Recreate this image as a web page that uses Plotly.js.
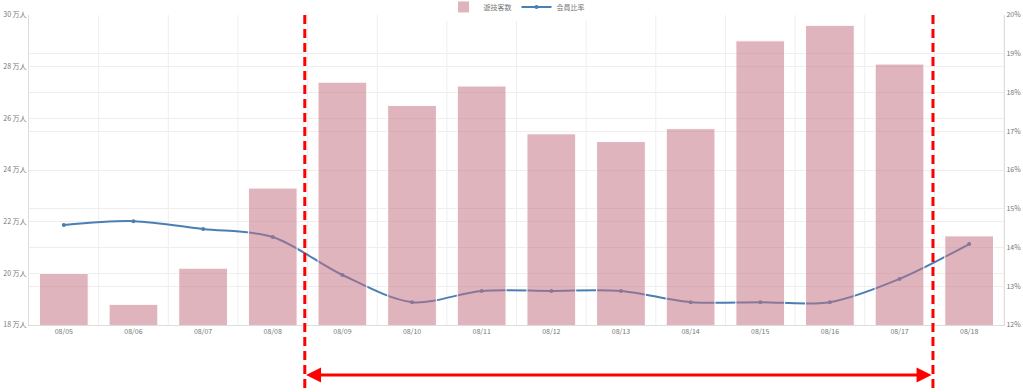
<!DOCTYPE html>
<html>
<head>
<meta charset="utf-8">
<script src="https://cdn.plot.ly/plotly-3.0.1.min.js"></script>
<style>html,body{margin:0;padding:0;background:#fff;}#chart{width:1023px;height:392px;}</style>
</head>
<body>
<div id="chart"></div>
<script>
const dates = ["08/05","08/06","08/07","08/08","08/09","08/10","08/11","08/12","08/13","08/14","08/15","08/16","08/17","08/18"];
const visitors = [20.0, 18.8, 20.2, 23.3, 27.4, 26.5, 27.25, 25.4, 25.1, 25.6, 29.0, 29.6, 28.1, 21.45];
const memberRatio = [14.58, 14.68, 14.48, 14.27, 13.29, 12.59, 12.88, 12.88, 12.88, 12.59, 12.59, 12.59, 13.19, 14.09];
const leftTicks = [18, 20, 22, 24, 26, 28, 30];
const leftTickText = leftTicks.map(v => v + " 万人");
const rightTicks = [12, 13, 14, 15, 16, 17, 18, 19, 20];
const rightTickText = rightTicks.map(v => v + "%");
const seriesNames = ["遊技客数", "会員比率"];

const font = {family: "Noto Sans CJK JP, Noto Sans, sans-serif", size: 7, color: "#777"};

const lineTrace = {
  x: dates, y: memberRatio, name: seriesNames[1], type: "scatter", mode: "lines+markers",
  yaxis: "y", legendrank: 2,
  line: {color: "#4a7fb3", width: 2, shape: "spline", smoothing: 0.9},
  marker: {color: "#4a7fb3", size: 4}
};
const barTrace = {
  x: dates, y: visitors, name: seriesNames[0], type: "bar", yaxis: "y2", legendrank: 1,
  marker: {color: "rgba(196,112,128,0.52)", line: {color: "#fff", width: 1}},
  width: 0.7
};

const layout = {
  width: 1023, height: 392,
  margin: {l: 29, r: 19, t: 15, b: 67, autoexpand: false},
  paper_bgcolor: "#fff", plot_bgcolor: "#fff",
  font: font,
  showlegend: true,
  legend: {orientation: "h", x: 0.5, xanchor: "center",
           y: 1.026, yanchor: "middle", yref: "paper",
           font: {size: 7, color: "#777"}, traceorder: "normal", tracegroupgap: 0,
           itemwidth: 30},
  bargap: 0.3,
  xaxis: {type: "category", showgrid: false, showline: true, linecolor: "#ddd",
          tickfont: font, ticks: "", zeroline: false, automargin: false,
          range: [-0.5, 13.5]},
  yaxis: {side: "right", range: [12, 20], tickvals: rightTicks, ticktext: rightTickText,
          showgrid: true, gridcolor: "#eee", zeroline: false, showline: true, linecolor: "#ddd",
          tickfont: font, ticks: "", automargin: false},
  yaxis2: {side: "left", overlaying: "y", range: [18, 30], tickvals: leftTicks, ticktext: leftTickText,
           showgrid: true, gridcolor: "#eee", zeroline: false, showline: true, linecolor: "#ddd",
           tickfont: font, ticks: "", automargin: false},
  shapes: [],
  annotations: []
};

for (let i = 0; i < dates.length; i++) {
  layout.shapes.push({type: "line", xref: "x", yref: "paper", x0: i + 0.5, x1: i + 0.5, y0: 0, y1: 1,
    line: {color: "#eee", width: 1}, layer: "below"});
}
[3.46, 12.48].forEach(xv => {
  layout.shapes.push({type: "line", xref: "x", yref: "paper", x0: xv, x1: xv, y0: 1, y1: -0.26,
    line: {color: "#ff0000", width: 3, dash: "9px,5px"}, layer: "above"});
});
layout.annotations.push({
  xref: "x", yref: "paper", x: 12.46, y: -0.161, text: "", showarrow: true,
  axref: "pixel", ayref: "pixel", ax: -627, ay: 0,
  arrowside: "end+start", arrowhead: 2, arrowsize: 1, arrowwidth: 3, arrowcolor: "#ff0000"
});

Plotly.newPlot("chart", [lineTrace, barTrace], layout, {displayModeBar: false, staticPlot: true});
</script>
</body>
</html>
